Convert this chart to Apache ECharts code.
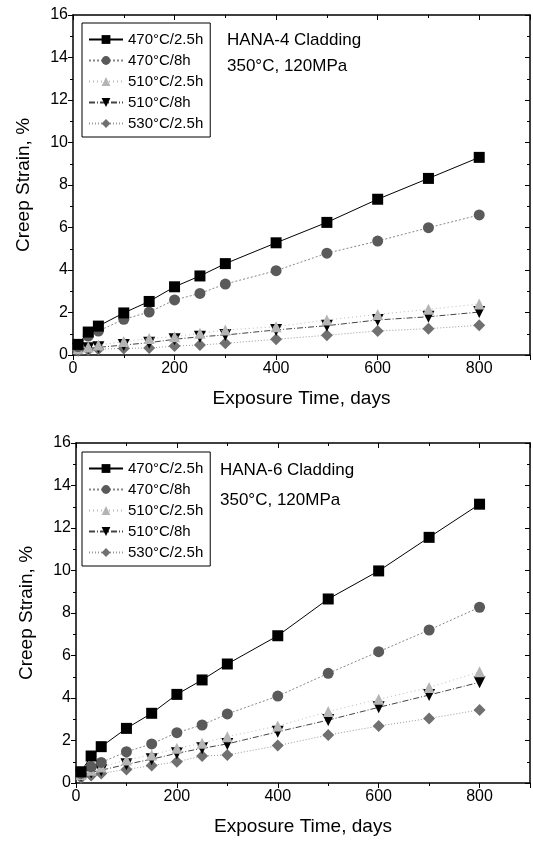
<!DOCTYPE html>
<html>
<head>
<meta charset="utf-8">
<script src="https://cdn.jsdelivr.net/npm/echarts@6/dist/echarts.min.js"></script>
<style>
  html, body { margin: 0; padding: 0; background: #fff; }
  #chart { width: 533px; height: 848px; }
</style>
</head>
<body>
<div id="chart"></div>
<script>
// exposure time, days
var days = [10, 30, 50, 100, 150, 200, 250, 300, 400, 500, 600, 700, 800];
var seriesNames = ['470°C/2.5h', '470°C/8h', '510°C/2.5h', '510°C/8h', '530°C/2.5h'];

// HANA-4 creep strain, %
var hana4_470_25 = [0.5, 1.08, 1.36, 1.98, 2.52, 3.21, 3.72, 4.30, 5.28, 6.24, 7.33, 8.31, 9.30];
var hana4_470_8  = [0.4, 0.89, 1.13, 1.68, 2.02, 2.59, 2.90, 3.34, 3.97, 4.79, 5.36, 5.99, 6.59];
var hana4_510_25 = [0.3, 0.38, 0.47, 0.63, 0.78, 0.86, 1.02, 1.18, 1.33, 1.65, 1.91, 2.15, 2.40];
var hana4_510_8  = [0.28, 0.32, 0.36, 0.47, 0.58, 0.74, 0.86, 0.94, 1.18, 1.38, 1.65, 1.80, 2.02];
var hana4_530_25 = [0.2, 0.24, 0.27, 0.31, 0.33, 0.42, 0.47, 0.55, 0.74, 0.93, 1.13, 1.24, 1.40];

// HANA-6 creep strain, %
var hana6_470_25 = [0.53, 1.27, 1.71, 2.57, 3.28, 4.17, 4.85, 5.60, 6.93, 8.66, 9.98, 11.56, 13.12];
var hana6_470_8  = [0.45, 0.77, 0.97, 1.47, 1.84, 2.37, 2.73, 3.25, 4.09, 5.16, 6.18, 7.20, 8.27];
var hana6_510_25 = [0.4, 0.6, 0.75, 1.08, 1.32, 1.63, 1.87, 2.18, 2.68, 3.36, 3.94, 4.49, 5.24];
var hana6_510_8  = [0.35, 0.5, 0.6, 0.88, 1.12, 1.40, 1.63, 1.84, 2.41, 2.96, 3.56, 4.14, 4.74];
var hana6_530_25 = [0.25, 0.35, 0.45, 0.64, 0.82, 1.00, 1.27, 1.32, 1.76, 2.26, 2.68, 3.04, 3.44];

var xTicks = { min: 0, max: 900, interval: 200 };
var yTicks = { min: 0, max: 16, interval: 2 };

var FONT = 'Liberation Sans, Arial, sans-serif';

// marker + line style per series
var styles = [
  { symbol: 'rect', size: 11, color: '#000', line: '#000', type: 'solid' },
  { symbol: 'circle', size: 11, color: '#5a5a5a', line: '#888', type: [2, 2] },
  { symbol: 'triangle', size: 11, color: '#b4b4b4', line: '#bbb', type: [1, 3] },
  { symbol: 'path://M0,0 L10,0 L5,9 Z', size: 12, color: '#000', line: '#444', type: [6, 2, 1, 2] },
  { symbol: 'diamond', size: 12, color: '#707070', line: '#999', type: [1, 2] }
];

function pairs(vals) {
  return days.map(function (d, i) { return [d, vals[i]]; });
}

function makeSeries(list, idx) {
  return list.map(function (vals, i) {
    var s = styles[i];
    return {
      name: seriesNames[i],
      type: 'line',
      xAxisIndex: idx * 2,
      yAxisIndex: idx * 2,
      data: pairs(vals),
      symbol: s.symbol,
      symbolSize: s.size,
      itemStyle: { color: s.color },
      lineStyle: { color: s.line, width: 1, type: s.type },
      z: 10 - i
    };
  });
}

function xAxes(grid) {
  return [
    {
      type: 'value', gridIndex: grid, position: 'bottom',
      min: xTicks.min, max: xTicks.max, interval: xTicks.interval,
      name: 'Exposure Time, days', nameLocation: 'middle', nameGap: 34,
      nameTextStyle: { fontFamily: FONT, fontSize: 19, color: '#000' },
      axisLine: { show: true, onZero: false, lineStyle: { color: '#000', width: 1.5 } },
      axisTick: { show: true, inside: false, length: 5, lineStyle: { color: '#000' } },
      minorTick: { show: true, splitNumber: 2, length: 3, lineStyle: { color: '#000' } },
      axisLabel: {
        fontFamily: FONT, fontSize: 16, color: '#000', margin: 6,
        formatter: function (v) { return v > 800 ? '' : String(v); }
      },
      splitLine: { show: false }
    },
    {
      type: 'value', gridIndex: grid, position: 'top',
      min: xTicks.min, max: xTicks.max, interval: xTicks.interval,
      axisLine: { show: true, onZero: false, lineStyle: { color: '#000', width: 1.5 } },
      axisTick: { show: true, inside: true, length: 5, lineStyle: { color: '#000' } },
      minorTick: { show: true, splitNumber: 2, length: 3, lineStyle: { color: '#000' } },
      axisLabel: { show: false },
      splitLine: { show: false }
    }
  ];
}

function yAxes(grid) {
  return [
    {
      type: 'value', gridIndex: grid, position: 'left',
      min: yTicks.min, max: yTicks.max, interval: yTicks.interval,
      name: 'Creep Strain, %', nameLocation: 'middle', nameGap: 40,
      nameTextStyle: { fontFamily: FONT, fontSize: 19, color: '#000' },
      axisLine: { show: true, onZero: false, lineStyle: { color: '#000', width: 1.5 } },
      axisTick: { show: true, inside: false, length: 5, lineStyle: { color: '#000' } },
      minorTick: { show: true, splitNumber: 2, length: 3, lineStyle: { color: '#000' } },
      axisLabel: { fontFamily: FONT, fontSize: 16, color: '#000', margin: 5 },
      splitLine: { show: false }
    },
    {
      type: 'value', gridIndex: grid, position: 'right',
      min: yTicks.min, max: yTicks.max, interval: yTicks.interval,
      axisLine: { show: true, onZero: false, lineStyle: { color: '#000', width: 1.5 } },
      axisTick: { show: true, inside: true, length: 5, lineStyle: { color: '#000' } },
      minorTick: { show: true, splitNumber: 2, length: 3, lineStyle: { color: '#000' } },
      axisLabel: { show: false },
      splitLine: { show: false }
    }
  ];
}

function legendAt(top) {
  return {
    data: seriesNames,
    orient: 'vertical',
    left: 82, top: top,
    borderColor: '#000', borderWidth: 1,
    padding: [9, 7, 6, 6],
    itemGap: 6, itemWidth: 34, itemHeight: 11,
    selectedMode: false,
    textStyle: { fontFamily: FONT, fontSize: 15, color: '#000' }
  };
}

function label(text, left, top) {
  return {
    type: 'text', left: left, top: top,
    style: { text: text, font: '17px ' + FONT, fill: '#000' }
  };
}

var chart = echarts.init(document.getElementById('chart'));
var option = {
  animation: false,
  backgroundColor: '#fff',
  grid: [
    { left: 73, top: 15, width: 459, height: 340 },
    { left: 76, top: 443, width: 456, height: 340 }
  ],
  xAxis: xAxes(0).concat(xAxes(1)),
  yAxis: yAxes(0).concat(yAxes(1)),
  legend: [legendAt(23), legendAt(452)],
  graphic: [
    label('HANA-4 Cladding', 227, 32),
    label('350°C, 120MPa', 227, 58),
    label('HANA-6 Cladding', 220, 462),
    label('350°C, 120MPa', 220, 492)
  ],
  series: makeSeries([hana4_470_25, hana4_470_8, hana4_510_25, hana4_510_8, hana4_530_25], 0)
    .concat(makeSeries([hana6_470_25, hana6_470_8, hana6_510_25, hana6_510_8, hana6_530_25], 1))
};
chart.setOption(option);
</script>
</body>
</html>
